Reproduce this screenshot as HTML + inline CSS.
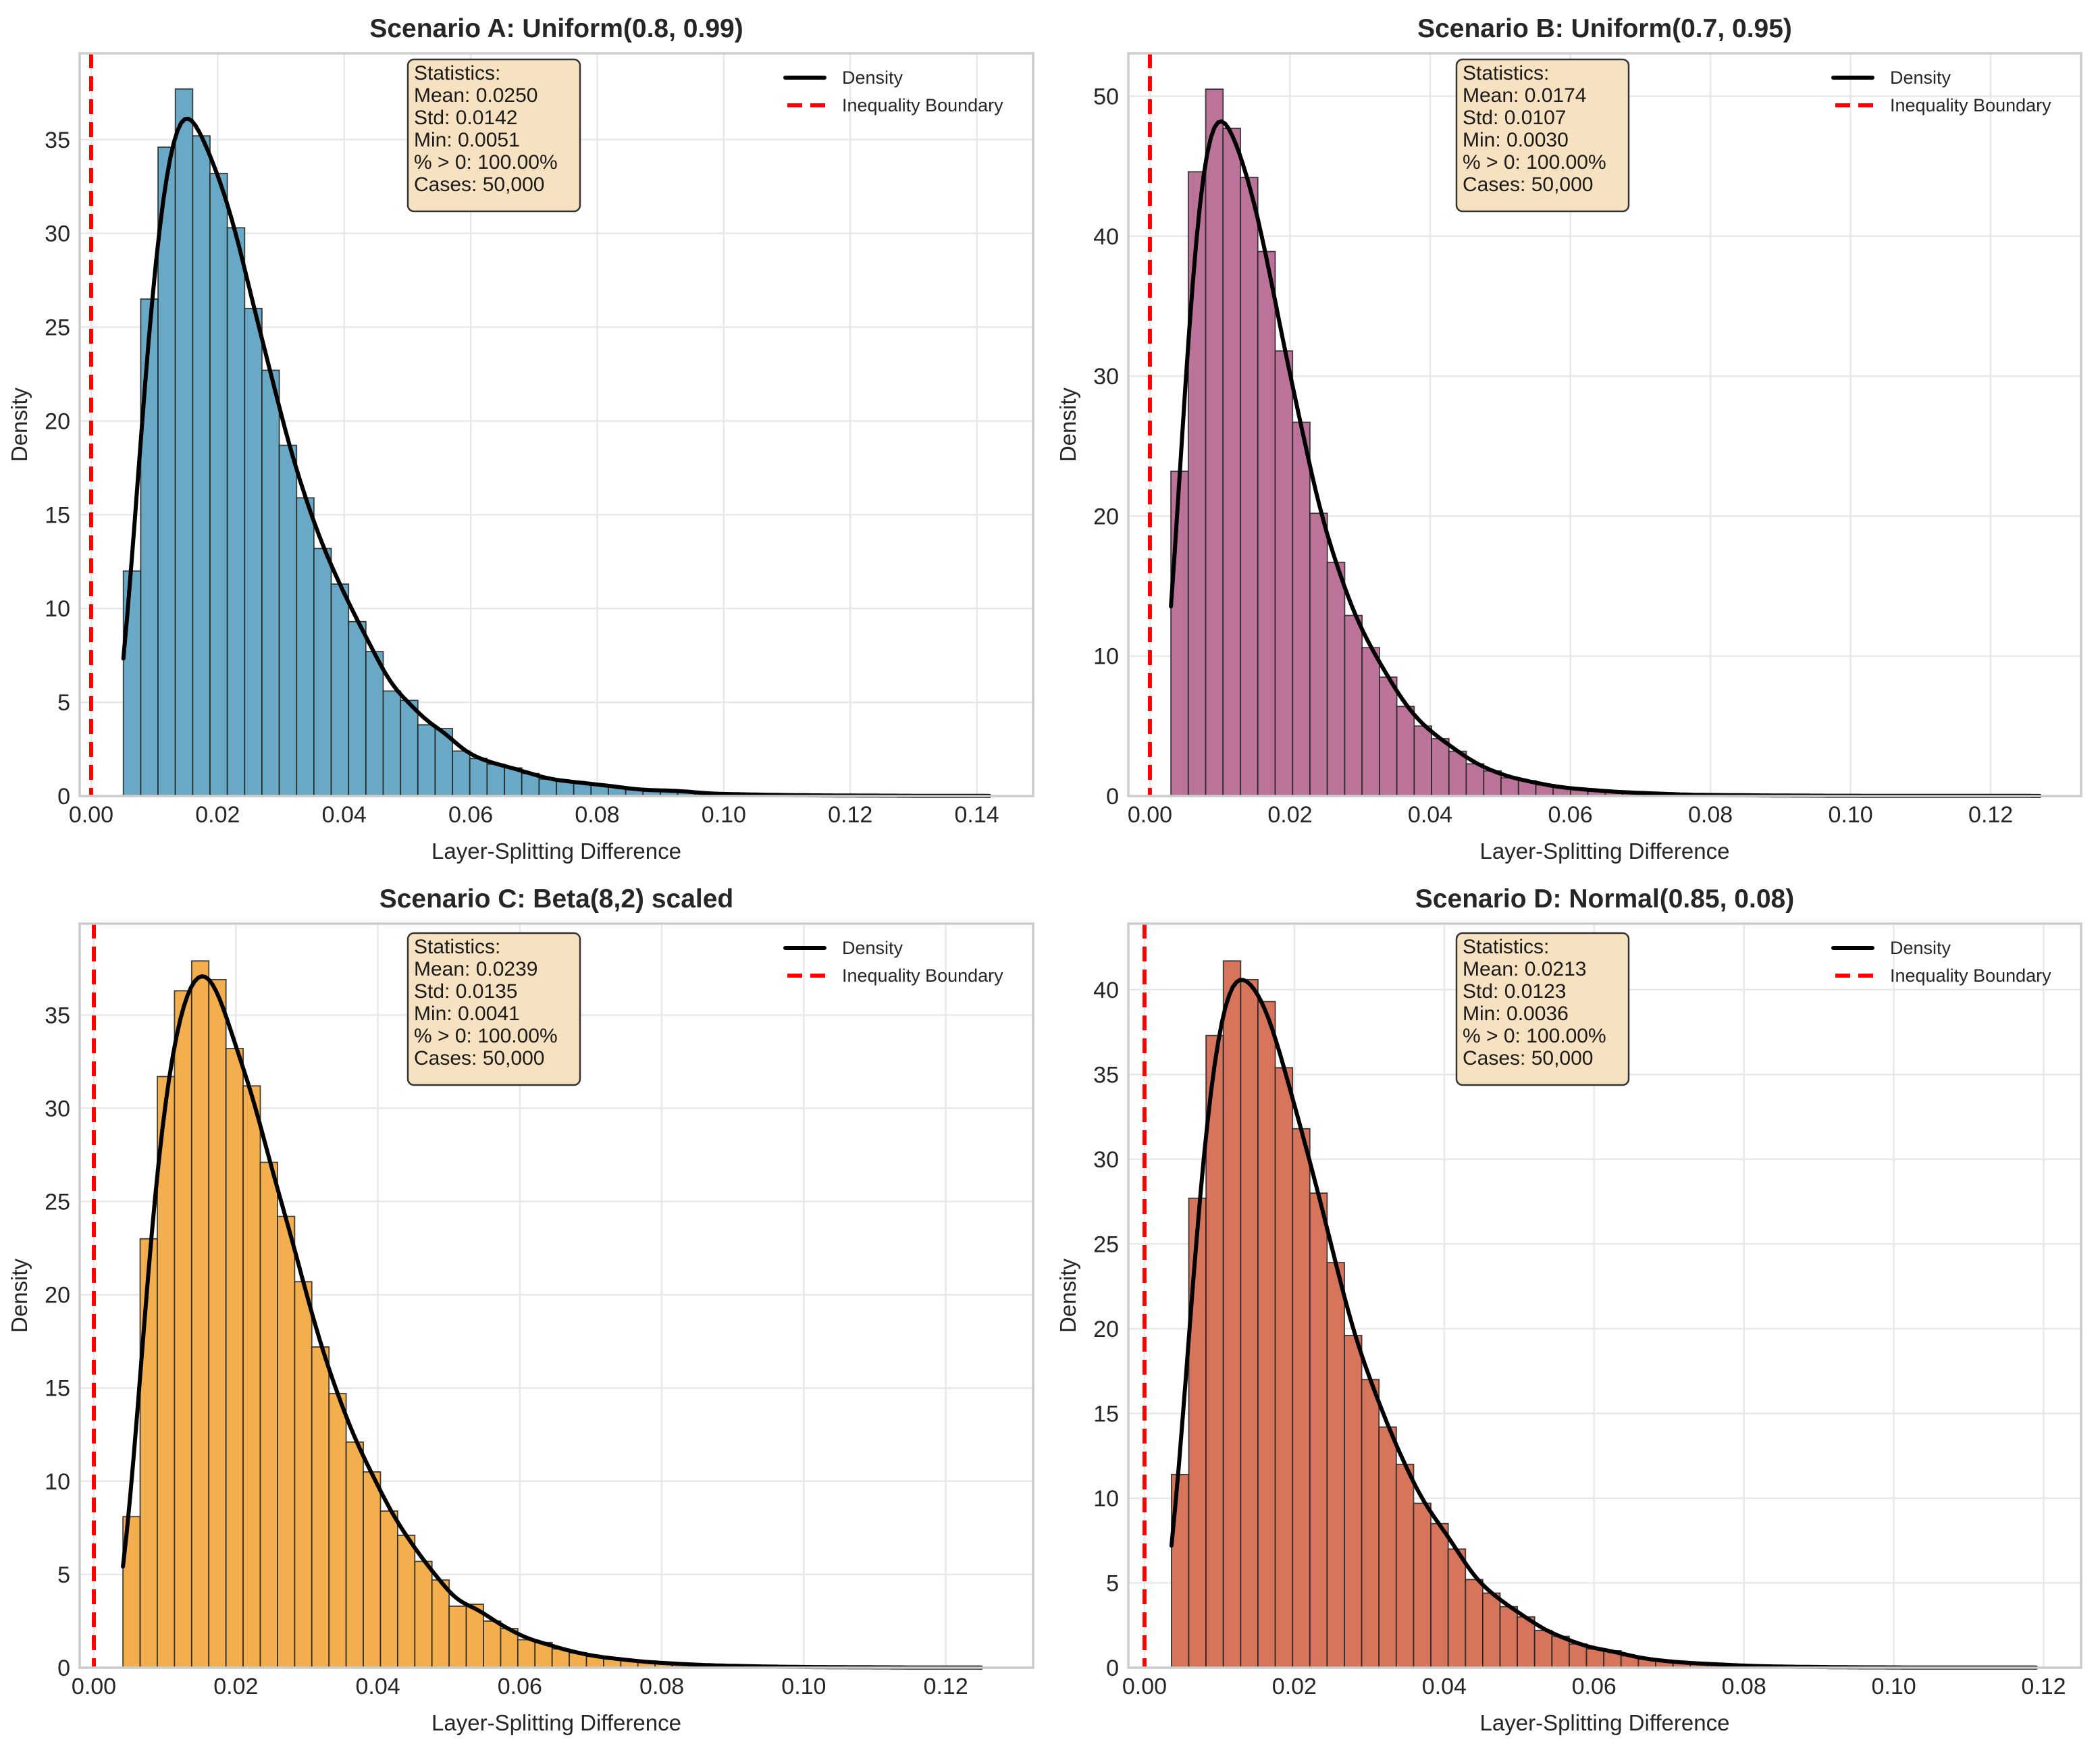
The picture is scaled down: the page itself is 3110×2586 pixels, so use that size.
<!DOCTYPE html>
<html><head><meta charset="utf-8"><style>
html,body{margin:0;padding:0;background:#fff;}
svg{display:block;font-family:"Liberation Sans",Arial,sans-serif;}
</style></head><body>
<svg id="fig" width="3110" height="2586" viewBox="0 0 3110 2586" xmlns="http://www.w3.org/2000/svg"></svg>
<script>
const titles = ["Scenario A: Uniform(0.8, 0.99)","Scenario B: Uniform(0.7, 0.95)","Scenario C: Beta(8,2) scaled","Scenario D: Normal(0.85, 0.08)"];
const mins = [0.0051, 0.0030, 0.0041, 0.0036];
const maxs = [0.142, 0.127, 0.125, 0.119];
const statsA = ["Statistics:","Mean: 0.0250","Std: 0.0142","Min: 0.0051","% > 0: 100.00%","Cases: 50,000"];
const statsB = ["Statistics:","Mean: 0.0174","Std: 0.0107","Min: 0.0030","% > 0: 100.00%","Cases: 50,000"];
const statsC = ["Statistics:","Mean: 0.0239","Std: 0.0135","Min: 0.0041","% > 0: 100.00%","Cases: 50,000"];
const statsD = ["Statistics:","Mean: 0.0213","Std: 0.0123","Min: 0.0036","% > 0: 100.00%","Cases: 50,000"];
const histA = [12.0,26.5,34.6,37.7,35.2,33.2,30.3,26.0,22.7,18.7,15.9,13.2,11.3,9.3,7.7,5.6,5.1,3.8,3.6,2.4,2.0,1.7,1.5,1.2,0.9,0.8,0.7,0.6,0.5,0.35,0.3,0.3,0.25,0.15,0.1,0.1,0.08,0.06,0.05,0.04,0.03,0.03,0.02,0.02,0.02,0.01,0.01,0.01,0.01,0.01];
const histB = [23.2,44.6,50.5,47.7,44.2,38.9,31.8,26.7,20.2,16.7,12.9,10.6,8.5,6.4,5.0,4.1,3.2,2.3,1.8,1.3,1.1,0.8,0.6,0.5,0.4,0.3,0.25,0.2,0.15,0.1,0.08,0.07,0.06,0.05,0.04,0.03,0.03,0.02,0.02,0.02,0.01,0.01,0.01,0.01,0.01,0.01,0.01,0.01,0.01,0.01];
const histC = [8.1,23.0,31.7,36.3,37.9,36.9,33.2,31.2,27.1,24.2,20.7,17.2,14.7,12.1,10.5,8.4,7.1,5.7,4.7,3.3,3.4,2.5,2.1,1.5,1.35,1.0,0.8,0.6,0.5,0.4,0.3,0.25,0.2,0.15,0.12,0.1,0.08,0.06,0.05,0.04,0.03,0.03,0.02,0.02,0.02,0.01,0.01,0.01,0.01,0.01];
const histD = [11.4,27.7,37.3,41.7,40.6,39.3,35.4,31.8,28.0,23.9,19.6,17.0,14.2,12.0,9.7,8.5,7.0,5.2,4.4,3.6,3.0,2.2,1.85,1.4,1.1,1.0,0.7,0.5,0.4,0.3,0.25,0.2,0.15,0.1,0.08,0.06,0.05,0.04,0.03,0.02,0.02,0.02,0.01,0.01,0.01,0.01,0.01,0.01,0.01,0.01];
const xTicksA = [0,0.02,0.04,0.06,0.08,0.10,0.12,0.14];
const xTicksBCD = [0,0.02,0.04,0.06,0.08,0.10,0.12];
const yTicksA = [0,5,10,15,20,25,30,35];
const yTicksB = [0,10,20,30,40,50];
const yTicksC = [0,5,10,15,20,25,30,35];
const yTicksD = [0,5,10,15,20,25,30,35,40];
const xDomains = [[-0.00181,0.1489],[-0.00308,0.1329],[-0.00200,0.1323],[-0.00216,0.1250]];
const yMaxes = [39.6, 53.06, 39.9, 43.9];

const NS="http://www.w3.org/2000/svg";
const svg=document.getElementById('fig');
function mk(tag,attrs,parent){const e=document.createElementNS(NS,tag);for(const k in attrs)e.setAttribute(k,attrs[k]);(parent||svg).appendChild(e);return e;}

const panels=[
 {L:118,T:79,R:1530,B:1179,hist:histA,xt:xTicksA,yt:yTicksA,stats:statsA,color:"#6aa9c5",name:"a",boxDy:9},
 {L:1671,T:79,R:3082,B:1179,hist:histB,xt:xTicksBCD,yt:yTicksB,stats:statsB,color:"#bc7399",name:"b",boxDy:9},
 {L:118,T:1368,R:1530,B:2470,hist:histC,xt:xTicksBCD,yt:yTicksC,stats:statsC,color:"#f3ae4d",name:"c",boxDy:14},
 {L:1671,T:1368,R:3082,B:2470,hist:histD,xt:xTicksBCD,yt:yTicksD,stats:statsD,color:"#d6745c",name:"d",boxDy:14}
];

panels.forEach((p,i)=>{
  const g=mk('g',{});
  
  
  const [x0,x1]=xDomains[i], ymax=yMaxes[i];
  const X=v=>p.L+(v-x0)/(x1-x0)*(p.R-p.L);
  const Y=v=>p.B-v/ymax*(p.B-p.T);
  p.xt.forEach(t=>{const l=mk('line',{x1:X(t),x2:X(t),y1:p.T,y2:p.B,stroke:"#e8e8e8","stroke-width":2.5},g);
    });
  p.yt.forEach(t=>{const l=mk('line',{x1:p.L,x2:p.R,y1:Y(t),y2:Y(t),stroke:"#e8e8e8","stroke-width":2.5},g);
    });
  const n=p.hist.length, bw=(maxs[i]-mins[i])/n;
  p.hist.forEach((h,k)=>{
    const xa=X(mins[i]+k*bw), xb=X(mins[i]+(k+1)*bw);
    const r=mk('rect',{x:xa,y:Y(h),width:xb-xa,height:p.B-Y(h),fill:p.color,stroke:"#222","stroke-opacity":0.85,"stroke-width":1.8},g);
    
    
  });
  const bwK=bw*0.8; let pts=[];
  for(let s=0;s<=240;s++){
    const x=mins[i]+(maxs[i]-mins[i])*s/240; let d=0;
    p.hist.forEach((h,k)=>{const c=mins[i]+(k+0.5)*bw;const z=(x-c)/bwK;d+=h*bw*Math.exp(-0.5*z*z)/(bwK*Math.sqrt(2*Math.PI));});
    pts.push(X(x).toFixed(1)+","+Y(d).toFixed(1));
  }
  const curve=mk('polyline',{points:pts.join(" "),fill:"none",stroke:"#000","stroke-width":6,"stroke-linejoin":"round","stroke-linecap":"round"},g);
  
  
  const rl=mk('line',{x1:X(0),x2:X(0),y1:p.T,y2:p.B,stroke:"#ff0000","stroke-width":6,"stroke-dasharray":"22,12"},g);
  
  
  const sp=mk('rect',{x:p.L,y:p.T,width:p.R-p.L,height:p.B-p.T,fill:"none",stroke:"#cccccc","stroke-width":3.5},g);
  
  
  p.xt.forEach(t=>{const tx=mk('text',{x:X(t),y:p.B+39,"font-size":34,fill:"#262626","text-anchor":"middle"},g);tx.textContent=t.toFixed(2);
    });
  p.yt.forEach(t=>{const tx=mk('text',{x:p.L-14,y:Y(t)+12,"font-size":34,fill:"#262626","text-anchor":"end"},g);tx.textContent=String(t);
    });
  const xl=mk('text',{x:(p.L+p.R)/2,y:p.B+93,"font-size":33,fill:"#262626","text-anchor":"middle"},g);xl.textContent="Layer-Splitting Difference";
  
  const yx=p.L-78, yy=(p.T+p.B)/2;
  const yl=mk('text',{x:yx,y:yy,"font-size":33,fill:"#262626","text-anchor":"middle",transform:`rotate(-90 ${yx} ${yy})`},g);yl.textContent="Density";
  
  const tt=mk('text',{x:(p.L+p.R)/2,y:p.T-24,"font-size":39,"font-weight":"bold",fill:"#262626","text-anchor":"middle"},g);tt.textContent=titles[i];
  
  const bx=p.L+486, by=p.T+p.boxDy;
  const box=mk('rect',{x:bx,y:by,width:255,height:225,rx:9,fill:"#f6e2c0",stroke:"#333","stroke-width":2.5},g);
  
  p.stats.forEach((s,k)=>{const tx=mk('text',{x:bx+9,y:by+30+k*33,"font-size":30,fill:"#1a1a1a"},g);tx.textContent=s;
    });
  const lg=mk('g',{},g);
  
  const l1=mk('line',{x1:p.R-367,x2:p.R-309,y1:p.T+36,y2:p.T+36,stroke:"#000","stroke-width":6,"stroke-linecap":"round"},lg);
  
  const t1=mk('text',{x:p.R-283,y:p.T+45,"font-size":27,fill:"#262626"},lg);t1.textContent="Density";
  
  const l2=mk('line',{x1:p.R-364,x2:p.R-306,y1:p.T+77,y2:p.T+77,stroke:"#ff0000","stroke-width":6,"stroke-dasharray":"22,12"},lg);
  
  const t2=mk('text',{x:p.R-283,y:p.T+86,"font-size":27,fill:"#262626"},lg);t2.textContent="Inequality Boundary";
  
});
</script>
</body></html>
